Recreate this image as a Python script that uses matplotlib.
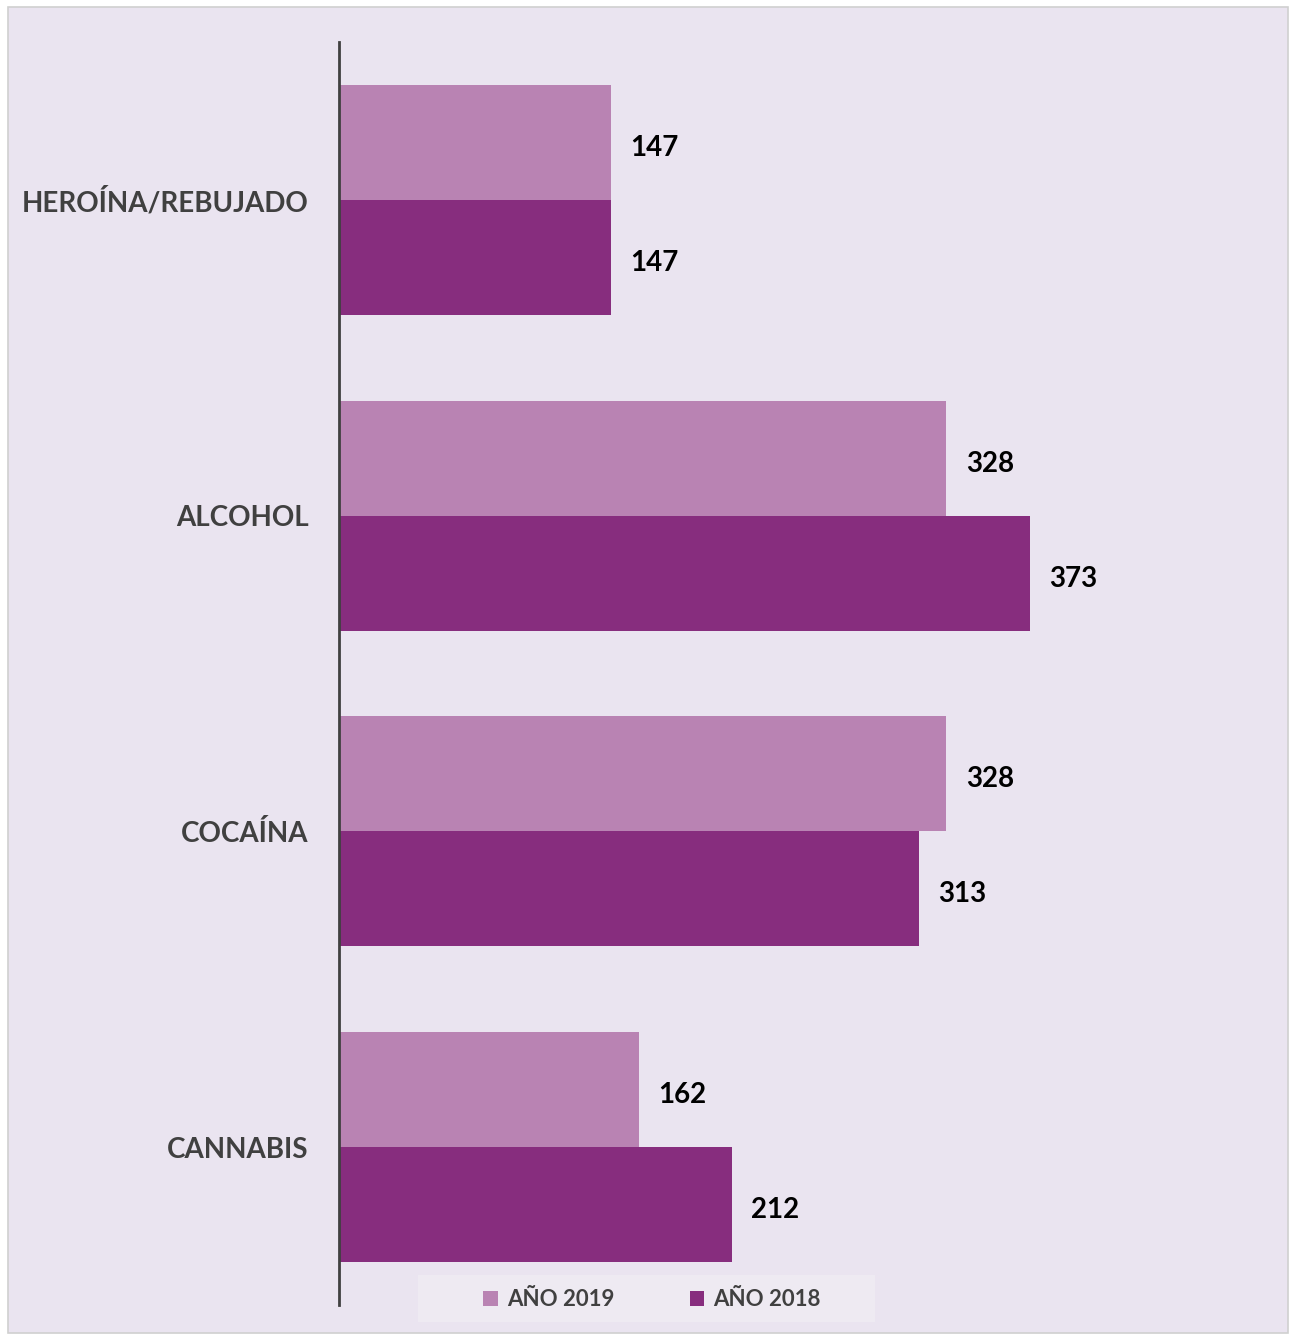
import numpy as np
import matplotlib
matplotlib.use("Agg")
import matplotlib.pyplot as plt
from matplotlib.patches import Rectangle

categories = ["HEROÍNA/REBUJADO", "ALCOHOL", "COCAÍNA", "CANNABIS"]
values_2019 = [147, 328, 328, 162]
values_2018 = [147, 373, 313, 212]
series_labels = ["AÑO 2019", "AÑO 2018"]

plt.rcParams['font.family'] = ['Lato', 'DejaVu Sans']

bg = "#EAE4F0"
c2019 = "#B983B3"
c2018 = "#872D7E"
txt = "#404040"

fig = plt.figure(figsize=(12.96, 13.35), dpi=100)
fig.patch.set_facecolor("white")
# panel background with thin grey border
fig.patches.append(Rectangle((8 / 1296, 2 / 1335), 1280 / 1296, 1326 / 1335,
                             transform=fig.transFigure, facecolor=bg,
                             edgecolor="#D0D0D0", linewidth=1.2, zorder=-10))
# legend box
fig.patches.append(Rectangle((418 / 1296, 1 - 1322 / 1335), 457 / 1296, 47 / 1335,
                             transform=fig.transFigure, facecolor="#EEEAF2",
                             edgecolor="none", zorder=-5))

ax = fig.add_axes([339 / 1296, 30 / 1335, 911 / 1296, 1263 / 1335])
ax.set_facecolor("none")

y = np.arange(len(categories))
h = 0.364
b1 = ax.barh(y - h / 2, values_2019, height=h, color=c2019, label=series_labels[0])
b2 = ax.barh(y + h / 2, values_2018, height=h, color=c2018, label=series_labels[1])

for bars, vals in ((b1, values_2019), (b2, values_2018)):
    for rect, v in zip(bars, vals):
        ax.annotate(str(v), (v, rect.get_y() + rect.get_height() / 2),
                    xytext=(14, -4), textcoords="offset points",
                    ha="left", va="center", fontsize=20, fontweight="bold", color="black")

ax.set_ylim(len(categories) - 0.5, -0.5)
ax.set_xlim(0, 492)
ax.set_yticks(y)
ax.set_yticklabels(categories, fontsize=20, fontweight="bold", color=txt)
ax.tick_params(axis="y", length=0, pad=22)
ax.set_xticks([])
for s in ["top", "right", "bottom"]:
    ax.spines[s].set_visible(False)
ax.spines["left"].set_color(txt)
ax.spines["left"].set_linewidth(2)

leg = fig.legend(loc="center", bbox_to_anchor=(652 / 1296, 1 - 1300 / 1335), ncol=2,
                 frameon=False, handlelength=0.65, handleheight=0.65,
                 handletextpad=0.4, columnspacing=3.4,
                 prop={"size": 16, "weight": "bold"})
for t in leg.get_texts():
    t.set_color(txt)

fig.savefig("out.png", dpi=100, facecolor=fig.get_facecolor())
